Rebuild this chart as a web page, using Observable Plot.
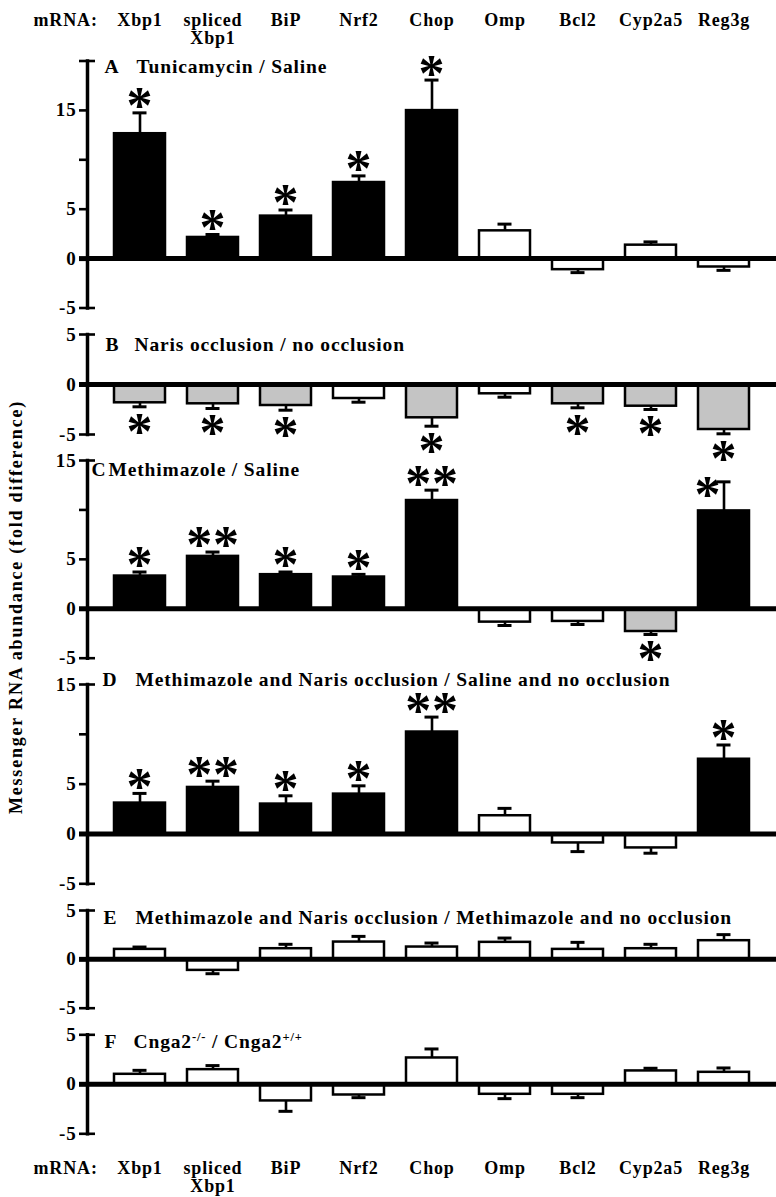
<!DOCTYPE html>
<html>
<head>
<meta charset="utf-8">
<script src="https://cdn.jsdelivr.net/npm/d3@7"></script>
<script src="https://cdn.jsdelivr.net/npm/@observablehq/plot@0.6"></script>
<style>
  body { margin: 0; background: #fff; }
  #wrap { position: relative; width: 776px; height: 1197px; overflow: hidden; background: #fff; }
  #ylab {
    position: absolute; left: 16px; top: 607px;
    transform: translate(-50%, -50%) rotate(-90deg);
    white-space: nowrap;
    font-family: "Liberation Serif", "Times New Roman", serif;
    font-weight: bold; font-size: 18px; letter-spacing: 1.8px; color: #000;
  }
</style>
</head>
<body>
<div id="wrap"><div id="ylab">Messenger RNA abundance (fold difference)</div></div>
<script>
// ---------- data ----------
const genes = ["Xbp1", "spliced\nXbp1", "BiP", "Nrf2", "Chop", "Omp", "Bcl2", "Cyp2a5", "Reg3g"];
const axisPrefix = "mRNA:";

const letters = ["A", "B", "C", "D", "E", "F"];
const titles = [
  "Tunicamycin / Saline",
  "Naris occlusion / no occlusion",
  "Methimazole / Saline",
  "Methimazole and Naris occlusion / Saline and no occlusion",
  "Methimazole and Naris occlusion / Methimazole and no occlusion",
  "Cnga2^{-/-} / Cnga2^{+/+}"
];

const meanA = [12.64, 2.14, 4.30, 7.70, 14.98, 2.81, -1.12, 1.36, -0.85];
const semA  = [2.11, 0.30, 0.62, 0.67, 3.09, 0.68, 0.30, 0.33, 0.34];
const starsA = ["*", "*", "*", "*", "*", "", "", "", ""];

const meanB = [-1.83, -1.93, -2.10, -1.40, -3.33, -0.93, -1.93, -2.17, -4.50];
const semB  = [0.40, 0.47, 0.47, 0.37, 0.84, 0.34, 0.40, 0.33, 0.43];
const starsB = ["*", "*", "*", "", "*", "", "*", "*", "*"];

const meanC = [3.31, 5.30, 3.45, 3.21, 10.95, -1.35, -1.28, -2.30, 9.90];
const semC  = [0.41, 0.44, 0.27, 0.27, 1.05, 0.34, 0.31, 0.30, 2.94];
const starsC = ["*", "**", "*", "*", "**", "", "", "*", "*"];

const meanD = [3.10, 4.67, 3.00, 4.00, 10.23, 1.83, -0.90, -1.40, 7.50];
const semD  = [0.97, 0.63, 0.83, 0.83, 1.50, 0.74, 0.87, 0.53, 1.43];
const starsD = ["*", "**", "*", "*", "**", "", "", "", "*"];

const meanE = [1.02, -1.13, 1.09, 1.77, 1.26, 1.74, 1.02, 1.09, 1.91];
const semE  = [0.24, 0.34, 0.45, 0.58, 0.41, 0.44, 0.72, 0.45, 0.62];
const starsE = ["", "", "", "", "", "", "", "", ""];

const meanF = [1.01, 1.48, -1.68, -1.08, 2.66, -1.01, -1.01, 1.35, 1.21];
const semF  = [0.40, 0.41, 1.05, 0.27, 0.91, 0.44, 0.34, 0.27, 0.44];
const starsF = ["", "", "", "", "", "", "", "", ""];

const ticksWide = [-5, 0, 5, 10, 15, 20];
const tickLabelsWide = ["-5", "0", "5", "", "15", ""];
const ticksMid = [-5, 0, 5, 10, 15];
const tickLabelsMid = ["-5", "0", "5", "", "15"];
const ticksSmall = [-5, 0, 5];
const tickLabelsSmall = ["-5", "0", "5"];

// ---------- layout (styles, not data) ----------
const W = 776, ML = 87;
const FONT = "'Liberation Serif', 'Times New Roman', serif";
const STAR_FS = 52;
const TITLE_FS = 19.5;
const CAT_FS = 18;
const panels = [
  {mean: meanA, sem: semA, stars: starsA, ticks: ticksWide, labels: tickLabelsWide,
   top: 0, height: 320, mt: 60.5, mb: 12.5, letterDx: 17, titleDx: 49, titleDy: -1.8, topAxis: true},
  {mean: meanB, sem: semB, stars: starsB, ticks: ticksSmall, labels: tickLabelsSmall,
   top: 320, height: 130, mt: 14, mb: 16, letterDx: 18, titleDx: 47, titleDy: 2.5},
  {mean: meanC, sem: semC, stars: starsC, ticks: ticksMid, labels: tickLabelsMid,
   top: 450, height: 220, mt: 10, mb: 12.3, letterDx: 4, titleDx: 21, titleDy: 1.5, sideStar: 8},
  {mean: meanD, sem: semD, stars: starsD, ticks: ticksMid, labels: tickLabelsMid,
   top: 670, height: 225, mt: 14, mb: 11.7, letterDx: 15, titleDx: 48, titleDy: -12.5},
  {mean: meanE, sem: semE, stars: starsE, ticks: ticksSmall, labels: tickLabelsSmall,
   top: 895, height: 125, mt: 15, mb: 12.3, letterDx: 16, titleDx: 48, titleDy: -0.5},
  {mean: meanF, sem: semF, stars: starsF, ticks: ticksSmall, labels: tickLabelsSmall,
   top: 1020, height: 177, mt: 14.3, mb: 63.7, letterDx: 17, titleDx: 46, titleDy: -0.8, bottomAxis: true}
];

const wrap = document.getElementById("wrap");

panels.forEach((p, k) => {
  const data = genes.map((g, i) => {
    const v = p.mean[i], e = p.sem[i], s = p.stars[i];
    const dir = v >= 0 ? 1 : -1;
    return {
      gene: g, v, end: v + dir * e, star: s, dir, idx: i,
      fill: s ? (v >= 0 ? "#000" : "#c4c4c4") : "#fff"
    };
  });
  const yMin = d3.min(p.ticks), yMax = d3.max(p.ticks);
  const cleanTitle = titles[k].replace(/\^\{([^}]*)\}/g, "$1");
  const isSide = (d) => p.sideStar === d.idx;
  const starShift = 0.16 * STAR_FS;

  const marks = [
    Plot.barY(data, {x: "gene", y1: 0, y2: "v", fill: "fill", stroke: "#000", strokeWidth: 2.5}),
    Plot.ruleX(data, {x: "gene", y1: "v", y2: "end", stroke: "#000", strokeWidth: 2.6}),
    Plot.tickY(data, {x: "gene", y: "end", stroke: "#000", strokeWidth: 3, insetLeft: 18.5, insetRight: 18.5}),
    Plot.ruleY([0], {stroke: "#000", strokeWidth: 5}),
    Plot.frame({anchor: "left", stroke: "#000", strokeWidth: 3.5}),
    Plot.axisY({ticks: p.ticks, tickSize: 8, tickPadding: 3, strokeWidth: 2.6,
      tickFormat: (d) => p.labels[p.ticks.indexOf(d)], fontSize: 19}),
    Plot.axisY({ticks: [0], tickSize: 8, strokeWidth: 5, tickFormat: () => ""}),
    Plot.axisY({ticks: [yMin, yMax], tickSize: 8, dx: 8, strokeWidth: 2.6, tickFormat: () => ""}),
    // stars above positive bars
    Plot.text(data.filter(d => d.star && d.dir > 0 && !isSide(d)), {
      x: "gene", y: "end", text: "star", fontSize: STAR_FS, lineAnchor: "middle",
      dy: -14.5 + starShift
    }),
    // stars below negative bars
    Plot.text(data.filter(d => d.star && d.dir < 0), {
      x: "gene", y: "end", text: "star", fontSize: STAR_FS, lineAnchor: "middle",
      dy: 17 + starShift
    }),
    // star set beside a tall error bar
    Plot.text(data.filter(d => d.star && isSide(d)), {
      x: "gene", y: "end", text: "star", fontSize: STAR_FS, lineAnchor: "middle",
      dx: -16, dy: 5 + starShift
    }),
    // panel letter and title
    Plot.text([letters[k]], {frameAnchor: "top-left", text: d => d, textAnchor: "start",
      lineAnchor: "top", dx: p.letterDx, dy: p.titleDy, fontSize: TITLE_FS}),
    Plot.text([cleanTitle], {frameAnchor: "top-left", text: d => d, textAnchor: "start",
      lineAnchor: "top", dx: p.titleDx, dy: p.titleDy, fontSize: TITLE_FS})
  ];

  if (p.topAxis) {
    marks.push(Plot.axisX({anchor: "top", label: null, tickSize: 0, tickPadding: 47.5, lineAnchor: "top", fontSize: CAT_FS}));
    marks.push(Plot.text([axisPrefix], {frameAnchor: "top-left", text: d => d, textAnchor: "start",
      lineAnchor: "top", dx: -54, dy: -47.5, fontSize: CAT_FS}));
  }
  if (p.bottomAxis) {
    marks.push(Plot.axisX({anchor: "bottom", label: null, tickSize: 0, tickPadding: 27.6, lineAnchor: "top", fontSize: CAT_FS}));
    marks.push(Plot.text([axisPrefix], {frameAnchor: "bottom-left", text: d => d, textAnchor: "start",
      lineAnchor: "top", dx: -54, dy: 27.6, fontSize: CAT_FS}));
  }

  const svg = Plot.plot({
    width: W,
    height: p.height,
    marginLeft: ML,
    marginRight: 0,
    marginTop: p.mt,
    marginBottom: p.mb,
    style: {
      fontFamily: FONT, fontWeight: "bold", letterSpacing: "0.85px", color: "#000",
      background: "transparent", overflow: "visible", position: "absolute", left: "0px", top: p.top + "px"
    },
    x: {type: "band", domain: genes, paddingInner: 0.3, paddingOuter: 0.311, axis: null},
    y: {domain: [yMin, yMax], axis: null},
    marks
  });

  // superscripts in titles written as ^{...}
  if (/\^\{/.test(titles[k])) {
    const parts = titles[k].split(/(\^\{[^}]*\})/).filter(s => s.length);
    d3.select(svg).selectAll("text").filter(function () { return this.textContent === cleanTitle; })
      .each(function () {
        const t = d3.select(this);
        t.text("");
        let raised = false;
        parts.forEach(s => {
          const m = s.match(/^\^\{([^}]*)\}$/);
          const ts = t.append("tspan");
          if (m) { ts.attr("dy", raised ? 0 : -7).attr("font-size", 12.5).text(m[1]); raised = true; }
          else { ts.attr("dy", raised ? 7 : 0).text(s); raised = false; }
        });
      });
  }
  wrap.appendChild(svg);
});
</script>
</body>
</html>
